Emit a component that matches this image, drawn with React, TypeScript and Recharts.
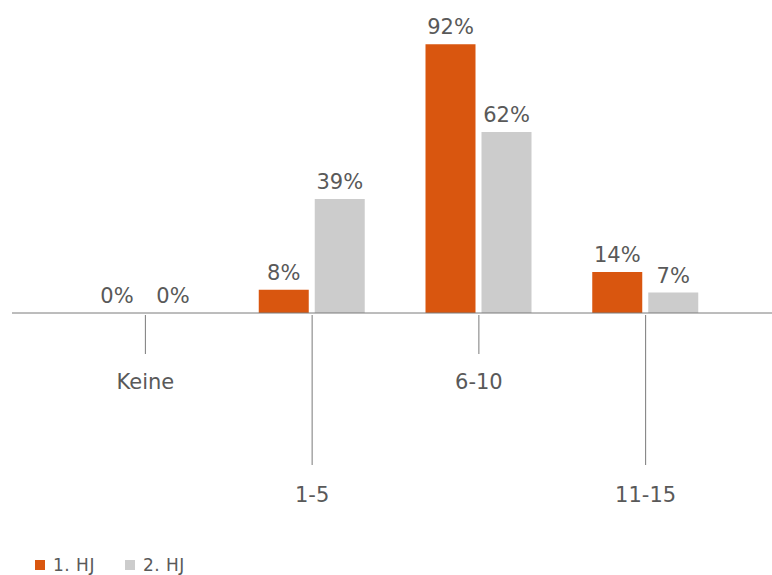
import React from "react";
import { BarChart, Bar, XAxis, YAxis, Legend } from "recharts";

const categories = ["Keine", "1-5", "6-10", "11-15"];
const firstHalf = [0, 8, 92, 14];
const secondHalf = [0, 39, 62, 7];
const seriesNames = ["1. HJ", "2. HJ"];

const data = categories.map((c, i) => ({ cat: c, h1: firstHalf[i], h2: secondHalf[i] }));

const ORANGE = "#D9560F";
const GRAY = "#CCCCCC";
const TEXT = "#595959";
const LINE = "#7A7A7A";
const FONT = "'DejaVu Sans', Verdana, sans-serif";

const Tick = (props: any) => {
  const { x, y, payload, index } = props;
  const long = index % 2 === 1;
  const len = long ? 150 : 39;
  const ly = long ? 180 : 67;
  return (
    <g>
      <line x1={x} y1={y} x2={x} y2={y + len} stroke={LINE} strokeWidth={1} />
      <text x={x} y={y + ly} textAnchor="middle" dominantBaseline="central" fill={TEXT} fontSize={21} fontFamily={FONT}>
        {payload.value}
      </text>
    </g>
  );
};

const ValueLabel = (props: any) => {
  const { x, y, width, height, value } = props;
  const top = Math.min(y, y + height);
  return (
    <text x={x + width / 2} y={top - 10} textAnchor="middle" fill={TEXT} fontSize={21} fontFamily={FONT}>
      {`${value}%`}
    </text>
  );
};

const LegendContent = () => (
  <div style={{ height: 20, display: "flex", alignItems: "center", fontFamily: FONT, fontSize: 17, lineHeight: 1, letterSpacing: 0.5, color: TEXT, paddingLeft: 23 }}>
    {[ORANGE, GRAY].map((c, i) => (
      <div key={i} style={{ display: "flex", alignItems: "center", marginRight: 30 }}>
        <div style={{ width: 10, height: 10, background: c, marginRight: 8 }} />
        <span>{seriesNames[i]}</span>
      </div>
    ))}
  </div>
);

const minSize = (v: any) => (v === 0 ? 0.01 : 0);

export default function App() {
  return (
    <div style={{ padding: "8px 0 0 8px", width: 764, height: 567 }}>
      <style>{`body { margin: 0; }`}</style>
      <BarChart
        width={764}
        height={567}
        data={data}
        margin={{ top: 13, right: 0, bottom: 0, left: 4 }}
        barSize={50}
        barGap={6}
      >
        <YAxis hide domain={[0, 100]} />
        <XAxis
          dataKey="cat"
          height={242}
          tickSize={0}
          tickLine={false}
          axisLine={{ stroke: LINE, strokeWidth: 1 }}
          padding={{ left: 50, right: 43 }}
          tick={<Tick />}
          interval={0}
        />
        <Legend verticalAlign="bottom" align="left" content={<LegendContent />} />
        <Bar dataKey="h1" name={seriesNames[0]} fill={ORANGE} isAnimationActive={false} minPointSize={minSize} label={<ValueLabel />} />
        <Bar dataKey="h2" name={seriesNames[1]} fill={GRAY} isAnimationActive={false} minPointSize={minSize} label={<ValueLabel />} />
      </BarChart>
    </div>
  );
}
